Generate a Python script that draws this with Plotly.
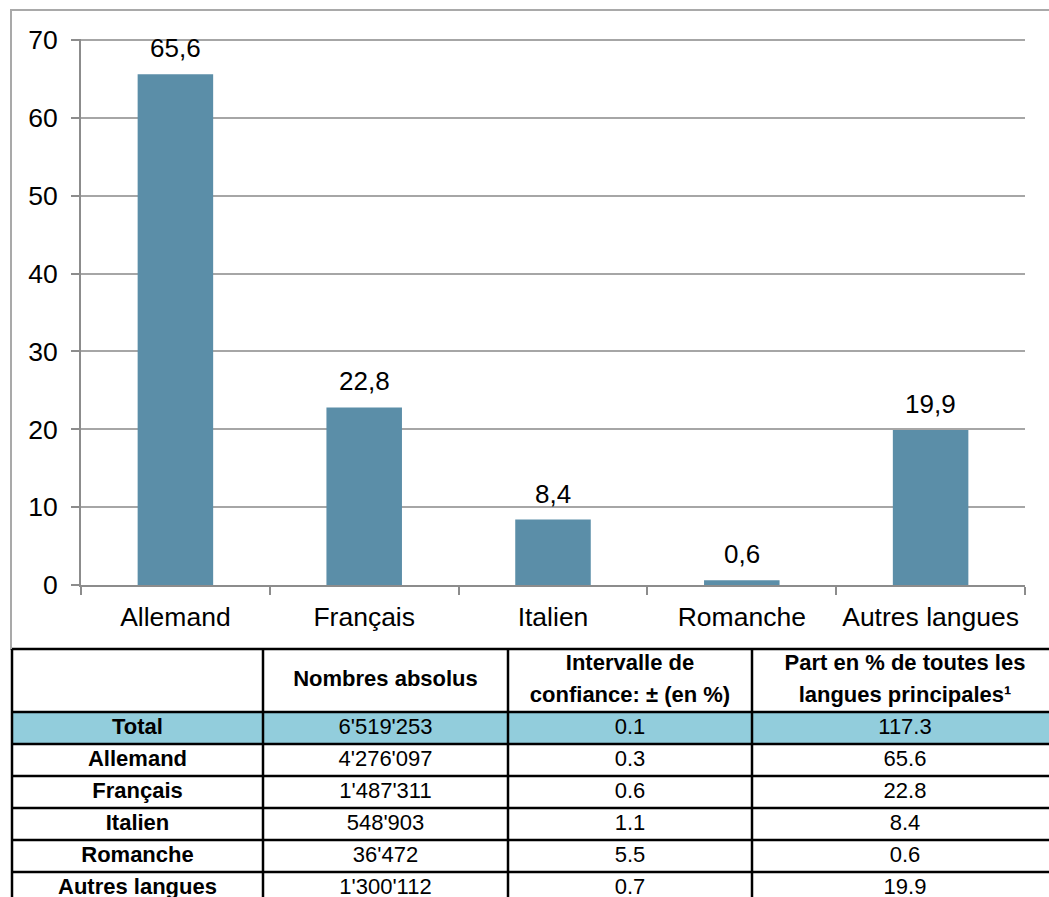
import plotly.graph_objects as go

# ---- data -------------------------------------------------------------
languages = ["Allemand", "Français", "Italien", "Romanche", "Autres langues"]
share_pct = [65.6, 22.8, 8.4, 0.6, 19.9]

row_labels = ["Total"] + languages
abs_numbers = ["6'519'253", "4'276'097", "1'487'311", "548'903", "36'472", "1'300'112"]
conf_interval = [0.1, 0.3, 0.6, 1.1, 5.5, 0.7]
share_total = 117.3
table_share = [share_total] + share_pct

header_lines = [
    [],
    ["Nombres absolus"],
    ["Intervalle de", "confiance: ± (en %)"],
    ["Part en % de toutes les", "langues principales¹"],
]

y_ticks = [0, 10, 20, 30, 40, 50, 60, 70]

# ---- style / layout ---------------------------------------------------
W, H = 1049, 897
BAR_COLOR = "#5B8EA8"
TOTAL_FILL = "#92CDDC"
GRID = "#A6A6A6"
AXIS = "#8C8C8C"
CHART_FONT = "Liberation Sans, Arial, sans-serif"
TABLE_FONT = "Liberation Sans, Arial, sans-serif"

# plot area in pixels: y=0 at PX_B, y=70 at PX_T
PX_L, PX_R, PX_T, PX_B = 81, 1025, 40, 585
Y_TOP_VAL, Y_MAX = 70, 70.15
px_per_unit = (PX_B - PX_T) / Y_TOP_VAL
PX_TOP_DOMAIN = PX_B - Y_MAX * px_per_unit

# table grid in pixels
col_edges = [12, 263, 508, 752, 1058]
header_top, header_h, row_h = 649, 63, 32
header_line_gap = 32


def px_x(px):
    return px / W


def px_y(py):
    return 1 - py / H


fig = go.Figure()

# ---- bar chart --------------------------------------------------------
fig.add_trace(go.Bar(
    x=languages, y=share_pct, width=0.4,
    marker=dict(color=BAR_COLOR, line=dict(width=0)),
    hoverinfo="skip", showlegend=False,
    xaxis="x", yaxis="y",
))

for lang, v in zip(languages, share_pct):
    fig.add_annotation(
        x=lang, y=v, xref="x", yref="y",
        text=f"{v:.1f}".replace(".", ","),
        showarrow=False, yanchor="bottom", yshift=9,
        font=dict(family=CHART_FONT, size=26, color="black"),
    )

# ---- table ------------------------------------------------------------
row_edges = [header_top, header_top + header_h]
for _ in row_labels:
    row_edges.append(row_edges[-1] + row_h)

col_centers = [(a + b) / 2 for a, b in zip(col_edges[:-1], col_edges[1:])]
row_centers = [(a + b) / 2 for a, b in zip(row_edges[1:-1], row_edges[2:])]
header_center = (row_edges[0] + row_edges[1]) / 2

shapes = []
# chart frame
shapes.append(dict(type="rect", xref="paper", yref="paper",
                   x0=px_x(11), x1=px_x(1070), y0=px_y(649), y1=px_y(10),
                   line=dict(color="#A9A9A9", width=2), fillcolor="rgba(0,0,0,0)",
                   layer="below"))
# highlighted total row
shapes.append(dict(type="rect", xref="x2", yref="y2",
                   x0=col_edges[0], x1=col_edges[-1],
                   y0=row_edges[1], y1=row_edges[2],
                   fillcolor=TOTAL_FILL, line=dict(width=0), layer="below"))
# horizontal rules
for ye in row_edges:
    shapes.append(dict(type="line", xref="x2", yref="y2",
                       x0=col_edges[0], x1=col_edges[-1], y0=ye, y1=ye,
                       line=dict(color="black", width=2.5)))
# vertical rules
for xe in col_edges:
    shapes.append(dict(type="line", xref="x2", yref="y2",
                       x0=xe, x1=xe, y0=row_edges[0], y1=row_edges[-1],
                       line=dict(color="black", width=2.5)))

# header text, one entry per line
hx, hy, ht = [], [], []
for j, lines in enumerate(header_lines):
    n = len(lines)
    for k, line in enumerate(lines):
        hx.append(col_centers[j])
        hy.append(header_center + (k - (n - 1) / 2) * header_line_gap)
        ht.append(f"<b>{line}</b>")
fig.add_trace(go.Scatter(
    x=hx, y=hy, text=ht,
    mode="text", textposition="middle center",
    textfont=dict(family=TABLE_FONT, size=22, color="black"),
    hoverinfo="skip", showlegend=False, xaxis="x2", yaxis="y2",
))
# row labels (bold)
fig.add_trace(go.Scatter(
    x=[col_centers[0]] * len(row_labels), y=row_centers,
    text=[f"<b>{r}</b>" for r in row_labels],
    mode="text", textposition="middle center",
    textfont=dict(family=TABLE_FONT, size=22, color="black"),
    hoverinfo="skip", showlegend=False, xaxis="x2", yaxis="y2",
))
# body cells
body_x, body_y, body_t = [], [], []
for i, yc in enumerate(row_centers):
    cells = [abs_numbers[i], f"{conf_interval[i]:.1f}", f"{table_share[i]:.1f}"]
    for j, txt in enumerate(cells):
        body_x.append(col_centers[j + 1])
        body_y.append(yc)
        body_t.append(txt)
fig.add_trace(go.Scatter(
    x=body_x, y=body_y, text=body_t,
    mode="text", textposition="middle center",
    textfont=dict(family=TABLE_FONT, size=22, color="black"),
    hoverinfo="skip", showlegend=False, xaxis="x2", yaxis="y2",
))

# ---- layout -----------------------------------------------------------
fig.update_layout(
    width=W, height=H,
    margin=dict(l=0, r=0, t=0, b=0, autoexpand=False),
    paper_bgcolor="white", plot_bgcolor="rgba(0,0,0,0)",
    font=dict(family=CHART_FONT, size=26, color="black"),
    shapes=shapes,
    xaxis=dict(
        domain=[px_x(PX_L), px_x(PX_R)], anchor="y", automargin=False,
        type="category", tickson="boundaries",
        ticks="outside", ticklen=8, tickwidth=2, tickcolor=AXIS,
        showline=True, linecolor=AXIS, linewidth=2,
        showgrid=False, zeroline=False,
        tickfont=dict(family=CHART_FONT, size=26.5, color="black"),
        ticklabelstandoff=7,
    ),
    yaxis=dict(
        domain=[px_y(PX_B), px_y(PX_TOP_DOMAIN)], anchor="x", automargin=False,
        range=[0, Y_MAX], tickvals=y_ticks,
        ticks="outside", ticklen=8, tickwidth=2, tickcolor=AXIS,
        showline=True, linecolor=AXIS, linewidth=2,
        showgrid=True, gridcolor=GRID, gridwidth=2,
        zeroline=False,
        tickfont=dict(family=CHART_FONT, size=26.5, color="black"),
        ticklabelstandoff=8,
    ),
    xaxis2=dict(domain=[0, 1], range=[0, W], anchor="y2", visible=False,
                fixedrange=True, automargin=False),
    yaxis2=dict(domain=[0, 1], range=[H, 0], anchor="x2", visible=False,
                fixedrange=True, automargin=False),
)

fig.write_html("out.html")
